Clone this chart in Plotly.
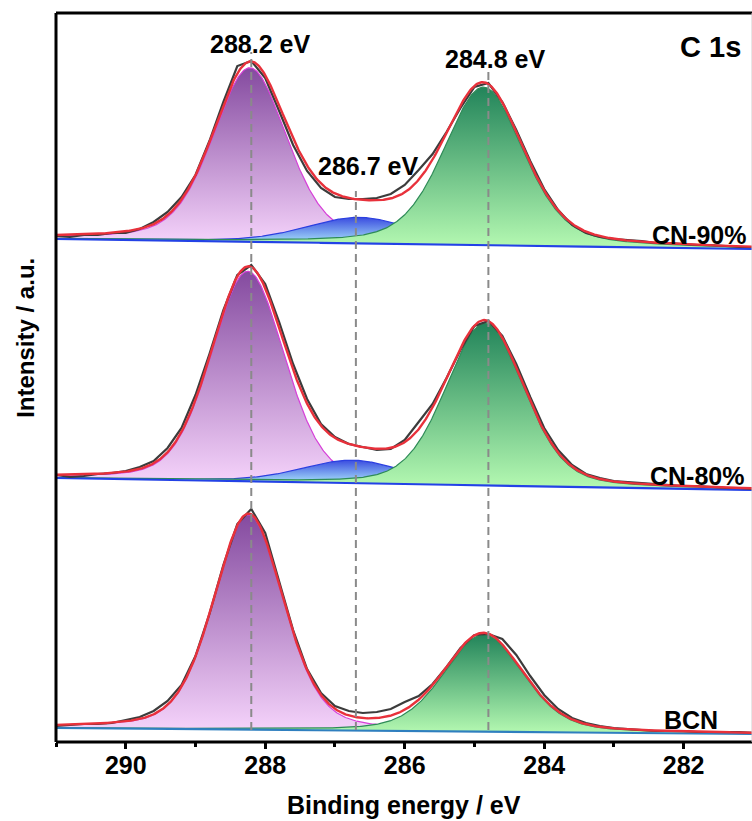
import numpy as np
import plotly.graph_objects as go

# ---------------- data ----------------
samples = ["CN-90%", "CN-80%", "BCN"]
baseline_at_291 = [503, 264, 14]
baseline_at_281 = [493, 252, 8]

peak_positions = [288.2, 286.7, 284.8]
peak_labels = ["288.2 eV", "286.7 eV", "284.8 eV"]
guide_top = [690, 551, 670]
guide_bottom = [12, 12, 12]

# fitted components: [C-N=C (288.2), C-NHx (286.7), C-C (284.8)]
cn90_center = [288.22, 286.65, 284.87]
cn90_height = [174, 26, 158]
cn90_fwhm = [1.26, 1.8, 1.35]
cn90_eta = [0.35, 0.3, 0.35]

cn80_center = [288.25, 286.75, 284.85]
cn80_height = [210, 23, 162]
cn80_fwhm = [1.24, 1.7, 1.32]
cn80_eta = [0.25, 0.3, 0.25]

bcn_center = [288.24, 286.7, 284.87]
bcn_height = [215, 0, 97]
bcn_fwhm = [1.18, 1.7, 1.34]
bcn_eta = [0.3, 0.3, 0.3]

# raw spectra, 291.0 -> 281.0 eV in 0.2 eV steps
raw_energy = [291.0 - 0.2 * i for i in range(51)]
cn90_raw = [506, 505, 507, 507, 509, 509, 513, 520, 530, 545,
            567, 601, 640, 676, 681, 664, 631, 597, 571, 554,
            545, 543, 543, 544, 548, 557, 572, 588, 610, 634,
            655, 659, 640, 612, 581, 553, 532, 517, 509, 505,
            503, 502, 501, 499, 499, 498, 497, 497, 496, 495, 495]
cn80_raw = [267, 265, 266, 268, 269, 271, 275, 281, 294, 314,
            347, 388, 432, 467, 477, 458, 420, 378, 343, 318,
            305, 298, 295, 292, 293, 302, 320, 338, 364, 392,
            416, 421, 406, 378, 345, 314, 292, 277, 268, 264,
            261, 260, 259, 258, 257, 256, 256, 255, 254, 254, 253]
bcn_raw = [16, 17, 18, 18, 19, 22, 25, 31, 41, 57,
           86, 128, 177, 218, 233, 209, 161, 112, 73, 49,
           36, 31, 29, 30, 33, 40, 46, 58, 75, 94,
           107, 108, 103, 87, 66, 47, 33, 24, 19, 16,
           14, 13, 12, 11, 11, 11, 10, 10, 10, 10, 9]

fits = [
    (cn90_center, cn90_height, cn90_fwhm, cn90_eta, cn90_raw),
    (cn80_center, cn80_height, cn80_fwhm, cn80_eta, cn80_raw),
    (bcn_center, bcn_height, bcn_fwhm, bcn_eta, bcn_raw),
]

# ---------------- styling ----------------
comp_light = ["#f4d2fa", "#a9e4fb", "#b2f7b0"]
comp_dark = ["#844a9f", "#3a4ce0", "#22845a"]
comp_edge = ["#d63fd8", "#2b3fe0", "#2e8b57"]
baseline_color = ["#2342e6", "#2342e6", "#2f7fbf"]
FONT = "Liberation Sans, Arial, sans-serif"

E = np.linspace(291, 281, 801)


def pv(x, c, h, w, eta):
    r = ((x - c) / w) ** 2
    return h * (eta / (1 + 4 * r) + (1 - eta) * np.exp(-4 * np.log(2) * r))


fig = go.Figure()

for s in range(3):
    c, h, w, eta, raw = fits[s]
    bl = baseline_at_281[s] + (baseline_at_291[s] - baseline_at_281[s]) * (E - 281) / 10
    env = bl.copy()
    for k in range(3):
        if h[k] <= 0:
            continue
        comp = pv(E, c[k], h[k], w[k], eta[k])
        env = env + comp
        base_pk = float(np.interp(c[k], E[::-1], bl[::-1]))
        fig.add_trace(go.Scatter(x=E, y=bl, mode="lines", line=dict(width=0),
                                 hoverinfo="skip", showlegend=False))
        fig.add_trace(go.Scatter(
            x=E, y=bl + comp, mode="lines", fill="tonexty",
            line=dict(color=comp_edge[k], width=1.2),
            fillgradient=dict(type="vertical",
                              colorscale=[[0, comp_light[k]], [1, comp_dark[k]]],
                              start=base_pk, stop=base_pk + h[k]),
            showlegend=False, hoverinfo="skip"))
    fig.add_trace(go.Scatter(x=E, y=bl, mode="lines",
                             line=dict(color=baseline_color[s], width=2.2),
                             showlegend=False, hoverinfo="skip"))
    fig.add_trace(go.Scatter(x=raw_energy, y=raw, mode="lines",
                             line=dict(color="#3c3c3c", width=2.2),
                             showlegend=False, hoverinfo="skip"))
    fig.add_trace(go.Scatter(x=E, y=env, mode="lines",
                             line=dict(color="#e8313b", width=2.4),
                             showlegend=False, hoverinfo="skip"))

shapes = []
for p, y0, y1 in zip(peak_positions, guide_bottom, guide_top):
    shapes.append(dict(type="line", xref="x", yref="y", x0=p, x1=p, y0=y0, y1=y1,
                       line=dict(color="#8a8a8a", width=2, dash="8px,5px"), layer="above"))
# frame
shapes.append(dict(type="line", xref="paper", yref="paper", x0=0, x1=1, y0=1, y1=1,
                   line=dict(color="black", width=3)))
shapes.append(dict(type="line", xref="paper", yref="paper", x0=0, x1=1, y0=0, y1=0,
                   line=dict(color="black", width=3)))
shapes.append(dict(type="line", xref="paper", yref="paper", x0=0, x1=0, y0=0, y1=1,
                   line=dict(color="black", width=3)))
shapes.append(dict(type="line", xref="paper", yref="paper", x0=1, x1=1, y0=0, y1=1,
                   line=dict(color="#cfcfcf", width=1)))

annotations = []
label_x = [288.08, 286.53, 284.70]
label_y = [698, 576, 683]
for t, xx, yy in zip(peak_labels, label_x, label_y):
    annotations.append(dict(x=xx, y=yy, xref="x", yref="y", text=t, showarrow=False,
                            xanchor="center", yanchor="middle",
                            font=dict(family=FONT, size=25, color="black", weight="bold")))
sample_x = [281.08, 281.11, 281.89]
sample_y = [507, 266, 22]
sample_anchor = ["right", "right", "center"]
for t, xx, yy, a in zip(samples, sample_x, sample_y, sample_anchor):
    annotations.append(dict(x=xx, y=yy, xref="x", yref="y", text=t, showarrow=False,
                            xanchor=a, yanchor="middle",
                            font=dict(family=FONT, size=25, color="black", weight="bold")))
annotations.append(dict(x=281.15, y=695, xref="x", yref="y", text="C 1s", showarrow=False,
                        xanchor="right", yanchor="middle",
                        font=dict(family=FONT, size=29, color="black", weight="bold")))
annotations.append(dict(x=0.5, y=-0.087, xref="paper", yref="paper",
                        text="Binding energy / eV", showarrow=False,
                        xanchor="center", yanchor="middle",
                        font=dict(family=FONT, size=25, color="black", weight="bold")))
annotations.append(dict(x=-0.045, y=0.554, xref="paper", yref="paper",
                        text="Intensity / a.u.", showarrow=False, textangle=-90,
                        xanchor="center", yanchor="middle",
                        font=dict(family=FONT, size=24, color="black", weight="bold")))

fig.update_layout(
    width=752, height=821,
    margin=dict(l=56, r=0, t=13, b=79),
    paper_bgcolor="white", plot_bgcolor="white",
    showlegend=False,
    shapes=shapes, annotations=annotations,
    xaxis=dict(range=[291, 281.02], showgrid=False, zeroline=False,
               showline=False,
               ticks="outside", ticklen=6, tickwidth=2.5, tickcolor="black",
               tick0=0, dtick=2, ticklabelstandoff=-5,
               tickfont=dict(family=FONT, size=25, color="black", weight="bold"),
               minor=dict(dtick=1, ticks="outside", ticklen=4, tickwidth=2.5,
                          tickcolor="black", showgrid=False)),
    yaxis=dict(range=[0, 729], showgrid=False, zeroline=False,
               showline=False, ticks="", showticklabels=False),
)

fig.write_html("out.html")
